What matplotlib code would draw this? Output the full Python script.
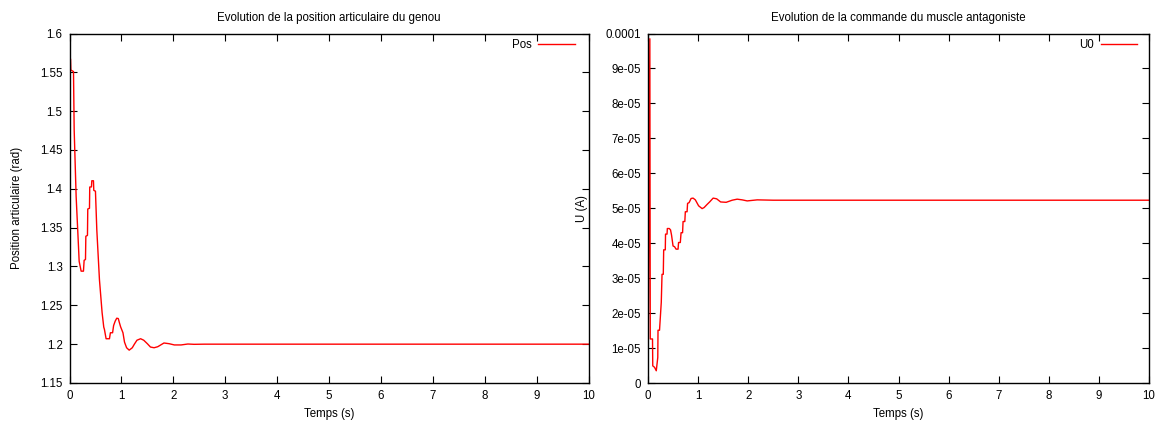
import matplotlib
matplotlib.use("Agg")
import matplotlib.pyplot as plt
from matplotlib.ticker import FuncFormatter, MultipleLocator

plt.rcParams['font.family'] = ['Liberation Sans', 'DejaVu Sans']
plt.rcParams['font.size'] = 8.3

# Knee joint position (rad) vs time (s)
pos_t = [0, 0.02, 0.026, 0.077, 0.09, 0.128, 0.173, 0.186, 0.224, 0.269, 0.282,
         0.308, 0.315, 0.346, 0.352, 0.385, 0.39, 0.423, 0.43, 0.4615, 0.468,
         0.5, 0.526, 0.577, 0.628, 0.66, 0.673, 0.705, 0.77, 0.788, 0.83, 0.85,
         0.88, 0.91, 0.94, 0.96, 0.985, 1.03, 1.06, 1.1, 1.15, 1.21, 1.25, 1.30,
         1.37, 1.43, 1.5, 1.56, 1.63, 1.70, 1.82, 1.92, 2.02, 2.15, 2.28, 2.40,
         2.6, 3.0, 10]
pos_val = [1.5694, 1.567, 1.553, 1.551, 1.476, 1.39, 1.326, 1.3067, 1.294, 1.294,
           1.308, 1.309, 1.339, 1.340, 1.374, 1.375, 1.4023, 1.4025, 1.4104,
           1.4104, 1.398, 1.397, 1.3474, 1.283, 1.2407, 1.222, 1.219, 1.207,
           1.207, 1.2147, 1.2147, 1.224, 1.2296, 1.2334, 1.233, 1.228, 1.2223,
           1.2147, 1.2026, 1.1954, 1.1923, 1.1954, 1.2, 1.2051, 1.207, 1.2051,
           1.2006, 1.1963, 1.1954, 1.1967, 1.2015, 1.2006, 1.199, 1.199, 1.2002,
           1.1998, 1.2, 1.2, 1.2]

# Antagonist muscle command U0 (A) vs time (s)
u_t = [0, 0.037, 0.045, 0.09, 0.095, 0.13, 0.165, 0.195, 0.2, 0.23, 0.265, 0.28,
       0.305, 0.313, 0.345, 0.35, 0.38, 0.386, 0.425, 0.45, 0.47, 0.5, 0.53,
       0.56, 0.6, 0.61, 0.645, 0.66, 0.69, 0.70, 0.735, 0.745, 0.78, 0.79, 0.82,
       0.86, 0.9, 0.945, 1.01, 1.08, 1.12, 1.18, 1.23, 1.3, 1.37, 1.45, 1.56,
       1.68, 1.78, 1.88, 1.98, 2.18, 2.5, 3.0, 10]
u_val = [0, 9.85e-5, 1.26e-5, 1.26e-5, 0.49e-5, 0.45e-5, 0.35e-5, 0.73e-5,
         1.51e-5, 1.51e-5, 2.31e-5, 3.11e-5, 3.11e-5, 3.81e-5, 3.81e-5, 4.26e-5,
         4.26e-5, 4.42e-5, 4.42e-5, 4.38e-5, 4.23e-5, 3.92e-5, 3.9e-5, 3.83e-5,
         3.83e-5, 4.02e-5, 4.02e-5, 4.3e-5, 4.3e-5, 4.62e-5, 4.62e-5, 4.9e-5,
         4.9e-5, 5.14e-5, 5.16e-5, 5.28e-5, 5.29e-5, 5.24e-5, 5.07e-5, 4.99e-5,
         5.02e-5, 5.11e-5, 5.18e-5, 5.29e-5, 5.27e-5, 5.18e-5, 5.17e-5, 5.23e-5,
         5.26e-5, 5.24e-5, 5.21e-5, 5.24e-5, 5.23e-5, 5.23e-5, 5.23e-5]


def gnuplot_style(ax):
    ax.tick_params(direction='in', length=5, width=0.8, top=True, right=True,
                   labelsize=8.3, pad=5)
    for s in ax.spines.values():
        s.set_linewidth(1.0)
    ax.yaxis.set_major_formatter(FuncFormatter(lambda v, p: '%g' % round(v, 10)))
    ax.xaxis.set_major_formatter(FuncFormatter(lambda v, p: '%g' % v))


fig = plt.figure(figsize=(11.63, 4.21), dpi=100)
ax1 = fig.add_axes([69.5 / 1163, 38 / 421, 519 / 1163, 349.5 / 421])
ax2 = fig.add_axes([648 / 1163, 38 / 421, 501 / 1163, 349.5 / 421])

ax1.plot(pos_t, pos_val, color='#ff0000', lw=1.0, label='Pos')
ax1.set_xlim(0, 10)
ax1.set_ylim(1.15, 1.6)
ax1.xaxis.set_major_locator(MultipleLocator(1))
ax1.yaxis.set_major_locator(MultipleLocator(0.05))
gnuplot_style(ax1)
ax1.set_title('Evolution de la position articulaire du genou', fontsize=8.3, pad=9)
ax1.set_xlabel('Temps (s)', fontsize=8.3, labelpad=4)
ax1.set_ylabel('Position articulaire (rad)', fontsize=8.3, labelpad=12)
ax1.legend(loc='upper right', bbox_to_anchor=(0.99, 1.006), frameon=False,
           markerfirst=False, handlelength=3.2, fontsize=8.3, borderaxespad=0.3,
           handletextpad=0.6)

ax2.plot(u_t, u_val, color='#ff0000', lw=1.0, label='U0')
ax2.set_xlim(0, 10)
ax2.set_ylim(0, 1e-4)
ax2.xaxis.set_major_locator(MultipleLocator(1))
ax2.set_yticks([i * 1e-5 for i in range(11)])
gnuplot_style(ax2)
ax2.set_title('Evolution de la commande du muscle antagoniste', fontsize=8.3, pad=9)
ax2.set_xlabel('Temps (s)', fontsize=8.3, labelpad=4)
ax2.set_ylabel('U (A)', fontsize=8.3, labelpad=13)
ax2.legend(loc='upper right', bbox_to_anchor=(0.993, 1.006), frameon=False,
           markerfirst=False, handlelength=3.2, fontsize=8.3, borderaxespad=0.3,
           handletextpad=0.6)

fig.savefig('out.png', dpi=100)
